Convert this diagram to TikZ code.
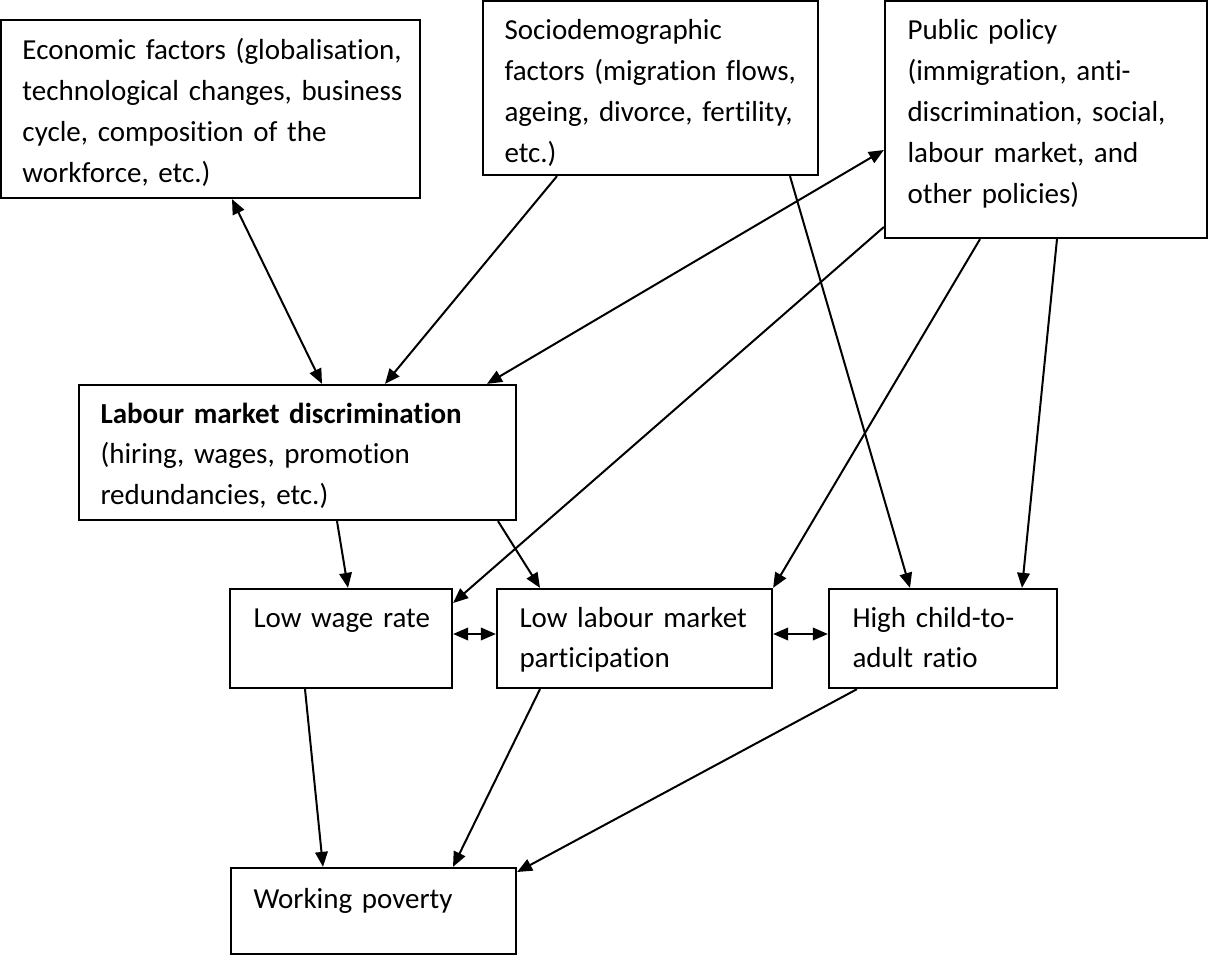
\documentclass[tikz,border=0pt]{standalone}
\usepackage{fontspec}
\setmainfont{Carlito}[Ligatures=NoCommon, WordSpace=0.7]
\usetikzlibrary{arrows.meta,fit}

\begin{document}
\begin{tikzpicture}[x=0.4pt, y=-0.4pt, >={Triangle[length=6pt, width=5pt]},
  box/.style={draw, line width=0.9pt, inner sep=0pt},
  txt/.style={anchor=base west, align=left, text width=200pt, inner sep=0pt, font=\fontsize{11.6}{16.3}\selectfont},
  link/.style={line width=0.8pt}]
	\useasboundingbox (0,0) rectangle (1208,960);
	% boxes
	\node[box, fit={(1,20) (420,198)}] (econ) {};
	\node[box, fit={(483,1) (818,175)}] (socio) {};
	\node[box, fit={(885,1) (1207,238)}] (policy) {};
	\node[box, fit={(79,385) (516,520)}] (lmd) {};
	\node[box, fit={(230,589) (452,688)}] (wage) {};
	\node[box, fit={(497,589) (772,688)}] (llmp) {};
	\node[box, fit={(829,589) (1057,688)}] (child) {};
	\node[box, fit={(231,868) (516,954)}] (poverty) {};
	% texts
	\node[txt] (econ-t) at (22,60) {Economic factors (globalisation,\\technological changes, business\\cycle, composition of the\\workforce, etc.)};
	\node[txt] (socio-t) at (504,40) {Sociodemographic\\factors (migration flows,\\ageing, divorce, fertility,\\etc.)};
	\node[txt] (policy-t) at (907,40) {Public policy\\(immigration, anti-\\discrimination, social,\\labour market, and\\other policies)};
	\node[txt] (lmd-t) at (100,423) {\textbf{Labour market discrimination}\\(hiring, wages, promotion\\redundancies, etc.)};
	\node[txt] (wage-t) at (253,627) {Low wage rate};
	\node[txt] (llmp-t) at (519,627) {Low labour market\\participation};
	\node[txt] (child-t) at (852,627) {High child-to-\\adult ratio};
	\node[txt] (poverty-t) at (253,908) {Working poverty};
	% connectors
	\draw[<->, link] (232,0 |- econ.south) -- (322,0 |- lmd.north);
	\draw[->, link] (557,0 |- socio.south) -- (385,0 |- lmd.north);
	\draw[<->, link] (policy.west |- 0,150) -- (487,0 |- lmd.north);
	\draw[->, link] (790,0 |- socio.south) -- (910,0 |- child.north);
	\draw[->, link] (policy.west |- 0,227) -- (wage.east |- 0,603);
	\draw[->, link] (980,0 |- policy.south) -- (llmp.north east);
	\draw[->, link] (1057,0 |- policy.south) -- (1022,0 |- child.north);
	\draw[->, link] (337,0 |- lmd.south) -- (348,0 |- wage.north);
	\draw[->, link] (498,0 |- lmd.south) -- (540,0 |- llmp.north);
	\draw[<->, link] (wage.east |- 0,634) -- (llmp.west |- 0,634);
	\draw[<->, link] (llmp.east |- 0,634) -- (child.west |- 0,634);
	\draw[->, link] (305,0 |- wage.south) -- (323,0 |- poverty.north);
	\draw[->, link] (540,0 |- llmp.south) -- (453,0 |- poverty.north);
	\draw[->, link] (857,0 |- child.south) -- (poverty.east |- 0,872);
\end{tikzpicture}
\end{document}
